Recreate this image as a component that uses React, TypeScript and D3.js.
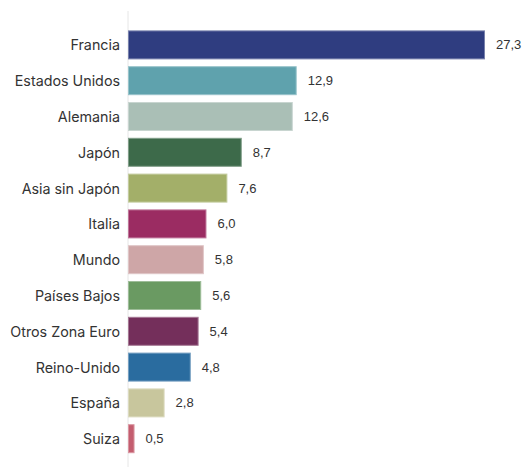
import React from "react";
import * as d3 from "d3";

const categories = [
  "Francia",
  "Estados Unidos",
  "Alemania",
  "Japón",
  "Asia sin Japón",
  "Italia",
  "Mundo",
  "Países Bajos",
  "Otros Zona Euro",
  "Reino-Unido",
  "España",
  "Suiza",
];
const values = [27.3, 12.9, 12.6, 8.7, 7.6, 6.0, 5.8, 5.6, 5.4, 4.8, 2.8, 0.5];
const colors = [
  "#2f3d80",
  "#5fa2ad",
  "#aabfb6",
  "#3d6a4a",
  "#a3af69",
  "#9b2c62",
  "#cea6a7",
  "#6a9a62",
  "#742f5b",
  "#2a6c9f",
  "#c8c69d",
  "#c45d6f",
];

const W = 524;
const H = 467;

export default function App() {
  const x = d3.scaleLinear().domain([0, 27.3]).range([128, 485]);
  const y = d3
    .scaleBand<string>()
    .domain(categories)
    .range([27, 456.6])
    .paddingInner(0.19)
    .paddingOuter(0.095);
  const fmt = (v: number) => v.toFixed(1).replace(".", ",");
  return (
    <svg
      width={W}
      height={H}
      style={{ position: "absolute", left: 0, top: 0, background: "#fff" }}
    >
      <line x1={x(0)} x2={x(0)} y1={11} y2={467} stroke="#e6e6e6" strokeWidth={1} />
      {categories.map((c, i) => {
        const yy = y(c) as number;
        const bw = y.bandwidth();
        const col = colors[i];
        const light = d3.interpolateRgb(col, "#ffffff")(0.35);
        return (
          <g key={c}>
            <rect
              x={x(0) + 0.5}
              y={yy + 0.5}
              width={x(values[i]) - x(0) - 1}
              height={bw - 1}
              fill={col}
              stroke={light}
              strokeWidth={1}
            />
            <text
              x={120}
              y={yy + bw / 2}
              textAnchor="end"
              dominantBaseline="central"
              fontFamily="Inter, sans-serif"
              fontSize={14.3}
              fill="#333333"
            >
              {c}
            </text>
            <text
              x={x(values[i]) + 11}
              y={yy + bw / 2}
              dominantBaseline="central"
              fontFamily="'Liberation Sans', Arial, sans-serif"
              fontSize={13}
              fill="#333333"
            >
              {fmt(values[i])}
            </text>
          </g>
        );
      })}
    </svg>
  );
}
